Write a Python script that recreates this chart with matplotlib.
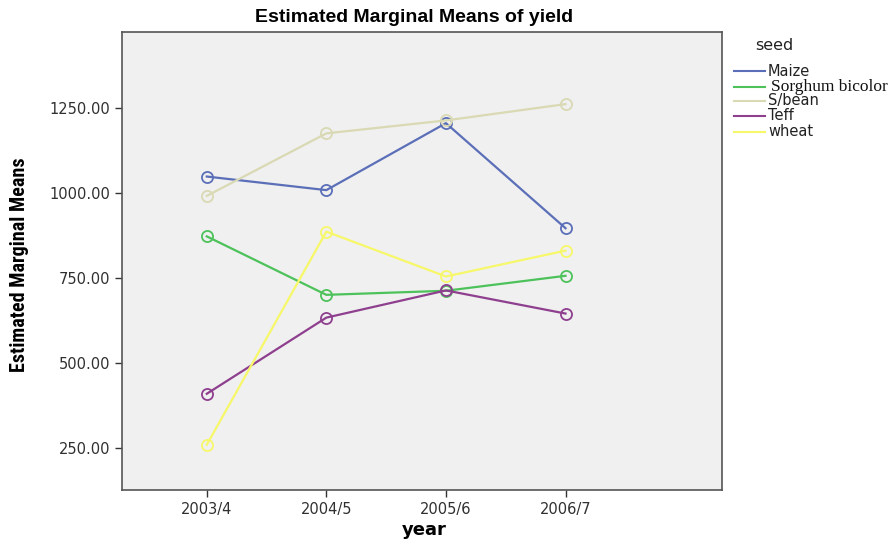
import matplotlib
matplotlib.use("Agg")
import matplotlib.pyplot as plt
from matplotlib.lines import Line2D

years = ["2003/4", "2004/5", "2005/6", "2006/7"]
seeds = ["Maize", "Sorghum bicolor", "S/bean", "Teff", "wheat"]
maize = [1048, 1008, 1205, 896]
sorghum = [872, 700, 712, 756]
sbean = [991, 1175, 1213, 1261]
teff = [409, 633, 713, 645]
wheat = [259, 886, 754, 830]
yticks = [250, 500, 750, 1000, 1250]

series = [maize, sorghum, sbean, teff, wheat]
colors = ["#5b6fb8", "#4dc25a", "#d9d9b4", "#8e3f8e", "#f7f76a"]

narrow = ["Arial Narrow", "Liberation Sans Narrow", "Roboto Condensed", "PT Sans Narrow",
          "Archivo Narrow", "DejaVu Sans"]

fig = plt.figure(figsize=(8.96, 5.43), dpi=100)
ax = fig.add_axes([0.136, 0.0976, 0.670, 0.8434])
ax.set_facecolor("#f0f0f0")
x = list(range(len(years)))
for s, name, c in zip(series, seeds, colors):
    ax.plot(x, s, color=c, lw=1.6, marker="o", ms=8, mfc="none", mec=c, mew=1.3, label=name)

ax.set_xlim(-0.71, 4.31)
ax.set_ylim(126, 1473)
ax.set_xticks(x)
ax.set_xticklabels(years, fontsize=10.5, family="DejaVu Sans", color="#303030")
ax.set_yticks(yticks)
ax.set_yticklabels([f"{v:.2f}" for v in yticks], fontsize=10.5, family="DejaVu Sans", color="#303030")
for sp in ax.spines.values():
    sp.set_color("#555555")
    sp.set_linewidth(1.2)
ax.tick_params(length=5, width=1, color="#333333")

fig.text(0.462, 0.968, "Estimated Marginal Means of yield", ha="center", va="center",
         fontsize=14, fontweight="bold", family="Liberation Sans")
fig.text(0.474, 0.024, "year", ha="center", va="center", fontsize=13,
         fontweight="bold", family="DejaVu Sans")
fig.text(0.022, 0.512, "Estimated Marginal Means", rotation=90, ha="center", va="center",
         fontsize=14.5, fontweight="bold", family=narrow)

# legend
W, H = 896, 543
fig.text(755 / W, 1 - 46 / H, "seed", ha="left", va="center", fontsize=11.5,
         family="DejaVu Sans", color="#222222")
leg_y = [71, 87, 101, 116, 132]
for name, c, yy in zip(seeds, colors, leg_y):
    fy = 1 - yy / H
    fig.add_artist(Line2D([734 / W, 765 / W], [fy, fy], color=c, lw=1.5))
    if name == "Sorghum bicolor":
        fig.text(771 / W, fy, name, ha="left", va="center", fontsize=12.5,
                 family="Liberation Serif", color="#111111")
    else:
        fig.text(768 / W, fy, name, ha="left", va="center", fontsize=10.5,
                 family="DejaVu Sans", color="#222222")

fig.savefig("out.png", dpi=100)
